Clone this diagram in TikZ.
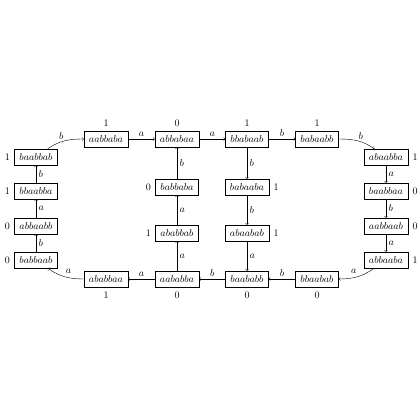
\documentclass[tikz,border=0pt]{standalone}
\begin{document}
\begin{tikzpicture}[x=1pt,y=-1pt,
  word/.style={draw,inner xsep=5pt,inner ysep=3pt,minimum height=16pt},
  edge/.style={->,>=to},
  elab/.style={inner sep=2.5pt,font=\normalsize}]
\useasboundingbox (0,0) rectangle (420,420);
% top row
\node[word,label={[label distance=1pt]above:$1$}] (aabbaba) at (106,139) {$aabbaba$};
\node[word,label={[label distance=1pt]above:$0$}] (abbabaa) at (177,139) {$abbabaa$};
\node[word,label={[label distance=1pt]above:$1$}] (bbabaab) at (247,139) {$bbabaab$};
\node[word,label={[label distance=1pt]above:$1$}] (babaabb) at (317,139) {$babaabb$};
% bottom row
\node[word,label={[label distance=1pt]below:$1$}] (ababbaa) at (106,279) {$ababbaa$};
\node[word,label={[label distance=1pt]below:$0$}] (aababba) at (177,279) {$aababba$};
\node[word,label={[label distance=1pt]below:$0$}] (baababb) at (247,279) {$baababb$};
\node[word,label={[label distance=1pt]below:$0$}] (bbaabab) at (317,279) {$bbaabab$};
% middle columns
\node[word,label={[label distance=1pt]left:$0$}] (babbaba) at (177,187) {$babbaba$};
\node[word,label={[label distance=1pt]left:$1$}] (ababbab) at (177,233) {$ababbab$};
\node[word,label={[label distance=1pt]right:$1$}] (babaaba) at (247,187) {$babaaba$};
\node[word,label={[label distance=1pt]right:$1$}] (abaabab) at (247,233) {$abaabab$};
% left column
\node[word,label={[label distance=1pt]left:$1$}] (baabbab) at (36,157) {$baabbab$};
\node[word,label={[label distance=1pt]left:$1$}] (bbaabba) at (36,191) {$bbaabba$};
\node[word,label={[label distance=1pt]left:$0$}] (abbaabb) at (36,226) {$abbaabb$};
\node[word,label={[label distance=1pt]left:$0$}] (babbaab) at (36,260) {$babbaab$};
% right column
\node[word,label={[label distance=1pt]right:$1$}] (abaabba) at (386,157) {$abaabba$};
\node[word,label={[label distance=1pt]right:$0$}] (baabbaa) at (386,191) {$baabbaa$};
\node[word,label={[label distance=1pt]right:$0$}] (aabbaab) at (386,226) {$aabbaab$};
\node[word,label={[label distance=1pt]right:$1$}] (abbaaba) at (386,260) {$abbaaba$};
% top row edges
\draw[edge] (baabbab) to[out=35,in=180] node[elab,above,pos=0.4] {$b$} (aabbaba);
\draw[edge] (aabbaba) -- node[elab,above] {$a$} (abbabaa);
\draw[edge] (abbabaa) -- node[elab,above] {$a$} (bbabaab);
\draw[edge] (bbabaab) -- node[elab,above] {$b$} (babaabb);
\draw[edge] (babaabb) to[out=0,in=145] node[elab,above,pos=0.6] {$b$} (abaabba);
% right column
\draw[edge] (abaabba) -- node[elab,right] {$a$} (baabbaa);
\draw[edge] (baabbaa) -- node[elab,right] {$b$} (aabbaab);
\draw[edge] (aabbaab) -- node[elab,right] {$a$} (abbaaba);
\draw[edge] (abbaaba) to[out=215,in=0] node[elab,above left,pos=0.45] {$a$} (bbaabab);
% bottom row
\draw[edge] (bbaabab) -- node[elab,above] {$b$} (baababb);
\draw[edge] (baababb) -- node[elab,above] {$b$} (aababba);
\draw[edge] (aababba) -- node[elab,above] {$a$} (ababbaa);
\draw[edge] (ababbaa) to[out=180,in=-35] node[elab,above right,pos=0.55] {$a$} (babbaab);
% left column
\draw[edge] (babbaab) -- node[elab,right] {$b$} (abbaabb);
\draw[edge] (abbaabb) -- node[elab,right] {$a$} (bbaabba);
\draw[edge] (bbaabba) -- node[elab,right] {$b$} (baabbab);
% middle column 1
\draw[edge] (aababba) -- node[elab,right] {$a$} (ababbab);
\draw[edge] (ababbab) -- node[elab,right] {$a$} (babbaba);
\draw[edge] (babbaba) -- node[elab,right] {$b$} (abbabaa);
% middle column 2
\draw[edge] (bbabaab) -- node[elab,right] {$b$} (babaaba);
\draw[edge] (babaaba) -- node[elab,right] {$b$} (abaabab);
\draw[edge] (abaabab) -- node[elab,right] {$a$} (baababb);
\end{tikzpicture}
\end{document}
